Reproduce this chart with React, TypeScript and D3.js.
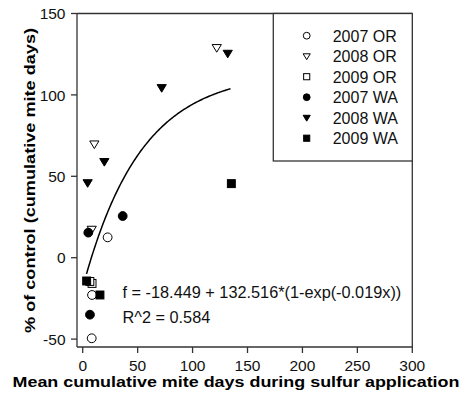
import React from "react";
import * as d3 from "d3";

const xTicks = [0, 50, 100, 150, 200, 250, 300];
const yTicks = [-50, 0, 50, 100, 150];

const seriesNames = ["2007 OR", "2008 OR", "2009 OR", "2007 WA", "2008 WA", "2009 WA"];
const seriesShapes = ["circle", "triangle", "square", "circle", "triangle", "square"];
const seriesFilled = [false, false, false, true, true, true];

const or2007 = [[22.7, 12.5], [8.5, -22.9], [8.2, -49.5]];
const or2008 = [[122, 129], [10.6, 69.8], [8.2, 17.4]];
const or2009 = [[8.5, -15.8], [6.5, -14.6]];
const wa2007 = [[36.4, 25.6], [5.1, 15.4], [6.6, -35]];
const wa2008 = [[132, 125.5], [71.9, 104.4], [19.7, 59], [4.5, 46]];
const wa2009 = [[135.3, 45.5], [3.6, -14.3], [15.7, -22.9]];
const seriesData = [or2007, or2008, or2009, wa2007, wa2008, wa2009];

const fitA = -18.449;
const fitB = 132.516;
const fitK = -0.019;
const fitRange = [3.5, 135];
const eqText = "f = -18.449 + 132.516*(1-exp(-0.019x))";
const r2Text = "R^2 = 0.584";

const FONT = "'Liberation Sans', Arial, Helvetica, sans-serif";

function Marker({ shape, filled, x, y, s }: any) {
  const fill = filled ? "#000" : "#fff";
  const stroke = "#000";
  const sw = 1;
  if (shape === "circle") return <circle cx={x} cy={y} r={s} fill={fill} stroke={stroke} strokeWidth={sw} />;
  if (shape === "square")
    return <rect x={x - s * 0.9} y={y - s * 0.9} width={s * 1.8} height={s * 1.8} fill={fill} stroke={stroke} strokeWidth={sw} />;
  const h = s * 1.7;
  const w = s * 1.05;
  const pts = `${x - w},${y - h / 2.4} ${x + w},${y - h / 2.4} ${x},${y + h * 0.6}`;
  return <polygon points={pts} fill={fill} stroke={stroke} strokeWidth={sw} />;
}

export default function App() {
  const W = 465, H = 404;
  const x = d3.scaleLinear().domain([0, 300]).range([82.7, 412.3]);
  const y = d3.scaleLinear().domain([-50, 150]).range([339.1, 13.5]);
  const left = 77, right = 412.3, top = 13.5, bottom = 347;

  const curvePts = d3.range(fitRange[0], fitRange[1] + 0.01, 1).map((v) => [v, fitA + fitB * (1 - Math.exp(fitK * v))]);
  const line = d3.line<number[]>().x((d) => x(d[0])).y((d) => y(d[1]));

  const axisColor = "#333";
  return (
    <svg width={W} height={H} style={{ position: "absolute", left: 0, top: 0, background: "#fff" }} fontFamily={FONT}>
      <rect x={0} y={0} width={W} height={H} fill="#fff" />
      {/* frame */}
      <line x1={left} x2={right} y1={top} y2={top} stroke={axisColor} strokeWidth={1.3} />
      <line x1={right} x2={right} y1={top} y2={bottom} stroke={axisColor} strokeWidth={1.3} />
      <line x1={left} x2={left} y1={top} y2={bottom} stroke={axisColor} strokeWidth={1.3} />
      <line x1={left} x2={right} y1={bottom} y2={bottom} stroke={axisColor} strokeWidth={1.3} />
      {/* x ticks */}
      {xTicks.map((t) => (
        <g key={"x" + t}>
          <line x1={x(t)} x2={x(t)} y1={bottom} y2={bottom + 6} stroke={axisColor} strokeWidth={1.3} />
          <text x={x(t)} y={370.5} fontSize={15.5} textAnchor="middle" fill="#111">{t}</text>
        </g>
      ))}
      {yTicks.map((t) => (
        <g key={"y" + t}>
          <line x1={left - 6} x2={left} y1={y(t)} y2={y(t)} stroke={axisColor} strokeWidth={1.3} />
          <text x={65.5} y={y(t) + 5.6} fontSize={15.5} textAnchor="end" fill="#111">{t}</text>
        </g>
      ))}
      <text x={236} y={387} fontSize={15} fontWeight="bold" textAnchor="middle" fill="#000" textLength={447} lengthAdjust="spacingAndGlyphs">
        Mean cumulative mite days during sulfur application
      </text>
      <text transform="translate(34.5,180.5) rotate(-90)" fontSize={15.5} fontWeight="bold" textAnchor="middle" fill="#000" textLength={305} lengthAdjust="spacingAndGlyphs">
        % of control (cumulative mite days)
      </text>
      {/* fit curve */}
      <path d={line(curvePts) || ""} fill="none" stroke="#000" strokeWidth={1.5} />
      {/* points */}
      {seriesData.map((pts, i) =>
        pts.map((p, j) => (
          <Marker key={i + "-" + j} shape={seriesShapes[i]} filled={seriesFilled[i]} x={x(p[0])} y={y(p[1])} s={4.4} />
        ))
      )}
      <text x={122.5} y={298.3} fontSize={16.3} fill="#111">{eqText}</text>
      <text x={122.5} y={323.3} fontSize={16.3} fill="#111">{r2Text}</text>
      {/* legend */}
      <rect x={273.3} y={top} width={right - 273.3} height={161 - top} fill="#fff" stroke={axisColor} strokeWidth={1.3} />
      {seriesNames.map((n, i) => {
        const ly = 35.7 + i * 20.5;
        return (
          <g key={n}>
            <Marker shape={seriesShapes[i]} filled={seriesFilled[i]} x={306.7} y={ly} s={3.4} />
            <text x={332.7} y={ly + 5.8} fontSize={16} fill="#111">{n}</text>
          </g>
        );
      })}
    </svg>
  );
}
